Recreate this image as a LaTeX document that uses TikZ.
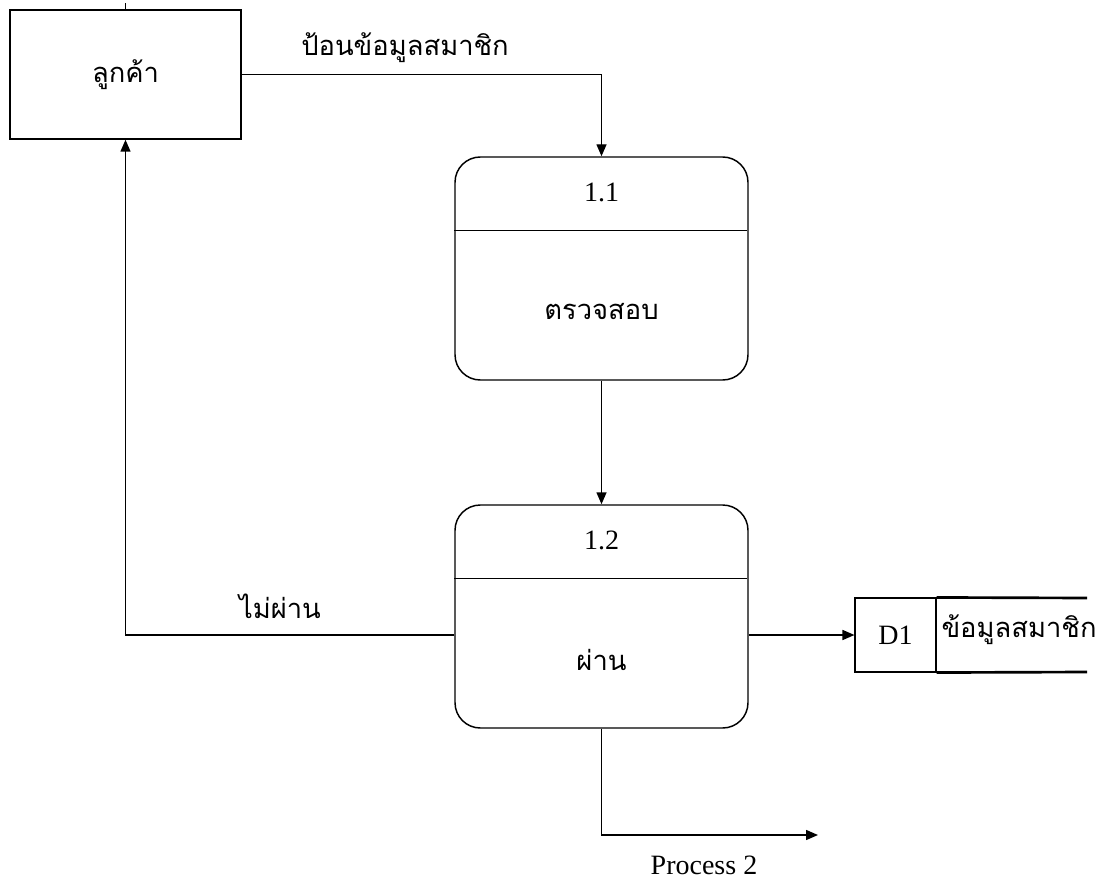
\documentclass[tikz,border=0pt]{standalone}
\usepackage{fontspec}
\setmainfont{Liberation Serif}
\newfontfamily\thaifont[Script=Thai]{Loma}
\usetikzlibrary{arrows.meta,positioning}
\tikzset{entity/.style={draw,line width=1.1pt,minimum width=231*0.75pt,minimum height=129*0.75pt,inner sep=0pt,font=\thaifont\fontsize{20.5}{24}\selectfont},
  procbox/.style={draw,line width=1.1pt,rounded corners=19pt,minimum width=293*0.75pt,minimum height=223*0.75pt,inner sep=0pt},
  storeid/.style={draw,line width=0.8pt,minimum width=81*0.75pt,minimum height=74*0.75pt,inner sep=0pt,font=\fontsize{21}{24}\selectfont},
  flow/.style={line width=1.1pt,-{Triangle[length=9pt,width=7.5pt]}},
  thaitxt/.style={font=\thaifont\fontsize{20.5}{24}\selectfont},
  numtxt/.style={font=\fontsize{21}{24}\selectfont}}

\begin{document}
\begin{tikzpicture}[x=0.75pt,y=-0.75pt]
            \useasboundingbox (0,0) rectangle (1106,884);
            % ลูกค้า
            \node[entity] (cust) at (125.5,74.5) {ลูกค้า};
            \draw[line width=1.1pt] (cust.north) -- ++(0,-6);
            % process 1.1
            \node[procbox] (p1) at (601.5,268.5) {};
            \draw[line width=1.1pt] (p1.north west) ++(0,74) -- ++(293,0);
            \node[numtxt] (n1) at (601.5,192) {1.1};
            \node[thaitxt] (t1) at (601.5,312) {ตรวจสอบ};
            % process 1.2
            \node[procbox] (p2) at (601.5,616.5) {};
            \draw[line width=1.1pt] (p2.north west) ++(0,74) -- ++(293,0);
            \node[numtxt] (n2) at (601.5,540) {1.2};
            \node[thaitxt] (t2) at (601.5,660) {ผ่าน};
            % data store
            \node[storeid] (d1) at (895.5,635) {D1};
            \coordinate (dtop) at (1087,598);
            \coordinate (dbot) at (1087,672);
            \draw[line width=2pt] (d1.north east) -- (dtop);
            \draw[line width=2pt] (d1.south east) -- (dbot);
            \node[thaitxt] (dname) at (1019,630) {ข้อมูลสมาชิก};
            % flows
            \draw[flow] (cust.east) -| (p1.north);
            \node[thaitxt] (f1) at (405,48) {ป้อนข้อมูลสมาชิก};
            \draw[flow] (p1.south) -- (p2.north);
            \draw[flow] (p2.west |- d1.west) -| (cust.south);
            \node[thaitxt] (f2) at (280,606) {ไม่ผ่าน};
            \draw[flow] (p2.east |- d1.west) -- (d1.west);
            \coordinate (p2out) at (818,835);
            \draw[flow] (p2.south) |- (p2out);
            \node[numtxt] (f3) at (704,865) {Process 2};
\end{tikzpicture}
\end{document}
